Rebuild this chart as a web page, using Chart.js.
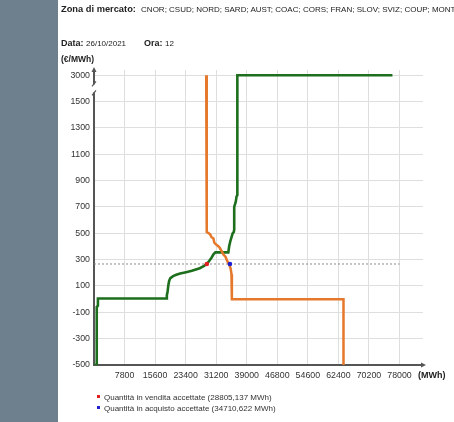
<!DOCTYPE html>
<html><head><meta charset="utf-8">
<script src="https://cdn.jsdelivr.net/npm/chart.js@4/dist/chart.umd.min.js"></script>
<style>
html,body{margin:0;padding:0;background:#fff;}
body{width:454px;height:422px;position:relative;overflow:hidden;font-family:"Liberation Sans",Arial,sans-serif;color:#222;}
#strip{position:absolute;left:0;top:0;width:58px;height:422px;background:#6e7f8d;}
canvas{position:absolute;left:0;top:0;}
.t{position:absolute;white-space:nowrap;line-height:1;}
.b{font-weight:bold;}
.sq{display:inline-block;width:3px;height:3px;margin-right:4px;vertical-align:2px;}
</style></head>
<body>
<div id="strip"></div>
<canvas id="c" width="454" height="422"></canvas>
<div class="t" style="left:61px;top:5px;font-size:9.3px;"><span class="b">Zona di mercato:</span>&nbsp;&nbsp;<span style="font-size:8px">CNOR; CSUD; NORD; SARD; AUST; COAC; CORS; FRAN; SLOV; SVIZ; COUP; MONT</span></div>
<div class="t" style="left:61px;top:39px;font-size:9px;"><span class="b">Data:</span> <span style="font-size:8px">26/10/2021</span></div>
<div class="t" style="left:144px;top:39px;font-size:9px;"><span class="b">Ora:</span> <span style="font-size:8px">12</span></div>
<div class="t b" style="left:61px;top:55px;font-size:8.5px;">(€/MWh)</div>
<div class="t b" style="left:418px;top:371px;font-size:9px;">(MWh)</div>
<div class="t" style="left:97px;top:394px;font-size:8px;color:#333;"><span class="sq" style="background:#e02020"></span>Quantità in vendita accettate (28805,137 MWh)</div>
<div class="t" style="left:97px;top:405px;font-size:8px;color:#333;"><span class="sq" style="background:#2020d0"></span>Quantità in acquisto accettate (34710,622 MWh)</div>
<script>
// ---- data ----
const xTickValues = [0, 7800, 15600, 23400, 31200, 39000, 46800, 54600, 62400, 70200, 78000];
const yTickValues = [-500, -300, -100, 100, 300, 500, 700, 900, 1100, 1300, 1500, 3000];
const offerQty   = [0, 700, 700, 1000, 1000, 18500, 18600, 18800, 19000, 19200, 19500, 20200, 21000, 22000, 23500, 25000, 26000, 27000, 28000, 28800, 29400, 30000, 30500, 31000, 34300, 34500, 34800, 35100, 35400, 35700, 35800, 35800, 36200, 36400, 36600, 36600, 76200];
const offerPrice = [-500, -500, -60, -50, 5, 5, 30, 60, 110, 140, 160, 175, 185, 195, 205, 215, 225, 235, 250, 267, 290, 315, 340, 355, 355, 400, 440, 470, 500, 510, 530, 700, 740, 780, 790, 3000, 3000];
const bidQty     = [28650, 28650, 28850, 28850, 29300, 29700, 30000, 30500, 30700, 31000, 31800, 32100, 32700, 33000, 33600, 34000, 34500, 34900, 35100, 35200, 35200, 63700, 63700];
const bidPrice   = [3000, 1000, 1000, 510, 500, 490, 470, 460, 430, 420, 400, 390, 360, 340, 320, 290, 265, 230, 190, 150, 0, 0, -500];
const clearingPrice = 267;
const priceLineQty = [0, 78000];
const soldQty = 28805.137;
const boughtQty = 34710.622;

// broken axis: 1500..3000 squeezed into one 200-step
const BREAK = 1500;
const tf = v => v <= BREAK ? v : BREAK + (v - BREAK) * 200 / 1500;
const inv = t => t <= BREAK ? t : Math.round(BREAK + (t - BREAK) * 1500 / 200);
const pts = (xs, ys) => xs.map((x, i) => ({x: x, y: tf(ys[i])}));

const FONT = '"Liberation Sans", Arial, sans-serif';

const axisDeco = {
  id: 'axisDeco',
  afterDraw(chart) {
    const ctx = chart.ctx, a = chart.chartArea;
    ctx.save();
    ctx.fillStyle = '#555';
    ctx.beginPath();
    ctx.moveTo(a.right + 3, a.bottom);
    ctx.lineTo(a.right - 2, a.bottom - 2.5);
    ctx.lineTo(a.right - 2, a.bottom + 2.5);
    ctx.closePath(); ctx.fill();
    ctx.beginPath();
    ctx.moveTo(a.left, a.top - 3);
    ctx.lineTo(a.left - 2.5, a.top + 2);
    ctx.lineTo(a.left + 2.5, a.top + 2);
    ctx.closePath(); ctx.fill();
    const ys = chart.scales.y;
    const y1 = ys.getPixelForValue(tf(3000)), y2 = ys.getPixelForValue(tf(1500));
    const m = (y1 + y2) / 2;
    ctx.fillStyle = '#fff';
    ctx.fillRect(a.left - 2, m - 4, 4, 8);
    ctx.strokeStyle = '#555'; ctx.lineWidth = 1.2;
    ctx.beginPath();
    ctx.moveTo(a.left - 2, m - 2); ctx.lineTo(a.left + 2, m - 7);
    ctx.moveTo(a.left - 2, m + 7); ctx.lineTo(a.left + 2, m + 2);
    ctx.stroke();
    ctx.restore();
  }
};

new Chart(document.getElementById('c'), {
  type: 'line',
  data: {
    datasets: [
      {data: [{x: soldQty, y: tf(clearingPrice)}], showLine: false, pointRadius: 2.3, pointBackgroundColor: '#e02020', pointBorderWidth: 0, order: 0},
      {data: [{x: boughtQty, y: tf(clearingPrice)}], showLine: false, pointRadius: 2.3, pointBackgroundColor: '#2020d0', pointBorderWidth: 0, order: 0},
      {data: pts(bidQty, bidPrice), borderColor: '#e5782a', borderWidth: 2.5, pointRadius: 0, tension: 0, fill: false, order: 1},
      {data: pts(offerQty, offerPrice), borderColor: '#1d6f1d', borderWidth: 2.6, pointRadius: 0, tension: 0, fill: false, order: 2},
      {data: priceLineQty.map(x => ({x: x, y: tf(clearingPrice)})), borderColor: '#8a8a8a', borderWidth: 1, borderDash: [2, 2], pointRadius: 0, fill: false, order: 3}
    ]
  },
  options: {
    responsive: false, animation: false,
    layout: {padding: {left: 0, right: 31, top: 70, bottom: 37}},
    plugins: {legend: {display: false}, tooltip: {enabled: false}},
    scales: {
      x: {
        type: 'linear', min: 0, max: 84000,
        afterBuildTicks: s => { s.ticks = xTickValues.map(v => ({value: v})); },
        ticks: {autoSkip: false, maxRotation: 0, padding: 5,
          color: '#333', font: {family: FONT, size: 8.8},
          callback: v => v === 0 ? '' : String(v)},
        grid: {color: '#dedede', drawTicks: false, lineWidth: 1},
        border: {color: '#555', width: 2},
        afterFit: s => { s.height = 20; }
      },
      y: {
        type: 'linear', min: -500, max: 1740,
        afterBuildTicks: s => { s.ticks = yTickValues.map(v => ({value: tf(v)})); },
        ticks: {padding: 4, color: '#333', font: {family: FONT, size: 8.8},
          callback: v => String(inv(v))},
        grid: {color: '#dedede', drawTicks: false, lineWidth: 1},
        border: {color: '#555', width: 2},
        afterFit: s => { s.width = 94; }
      }
    }
  },
  plugins: [axisDeco]
});
</script>
</body></html>
